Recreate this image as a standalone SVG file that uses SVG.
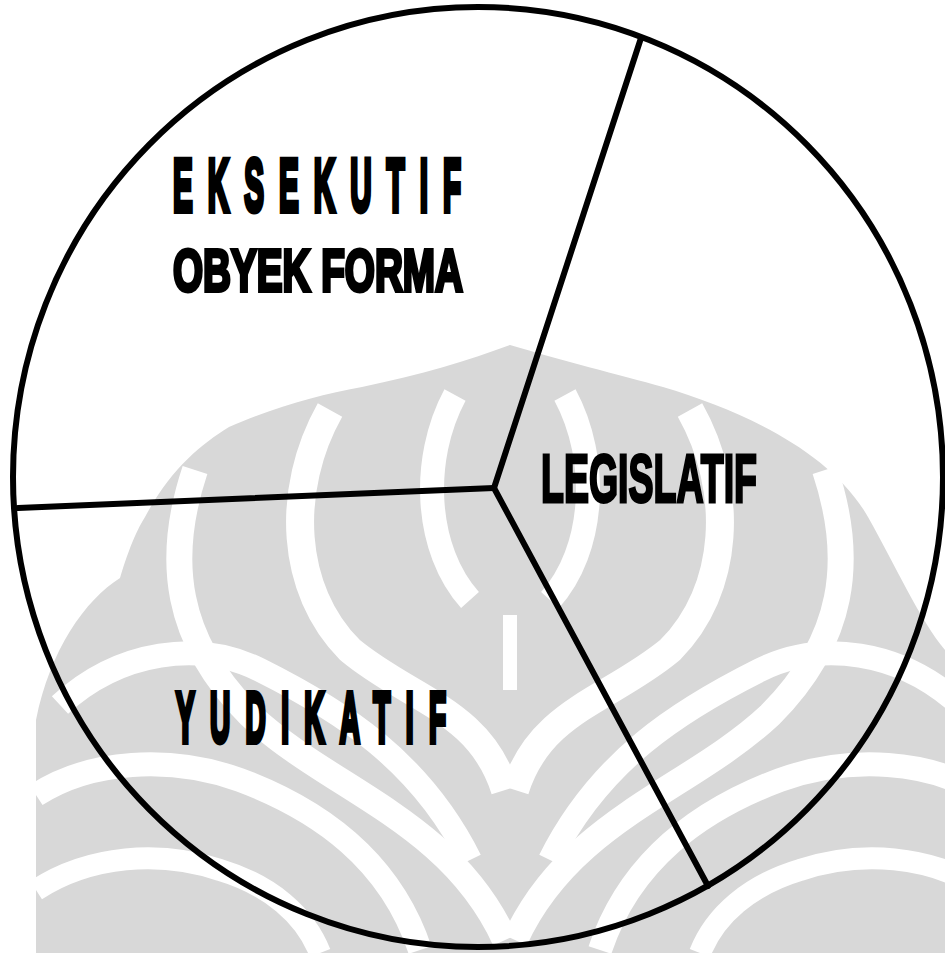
<svg xmlns="http://www.w3.org/2000/svg" width="945" height="953" viewBox="0 0 945 953">
<style>
.wm{fill:#d8d8d8}
.wb{fill:none;stroke:#ffffff;stroke-linecap:butt}
.lbl{font-family:"Liberation Sans",Arial,sans-serif;font-weight:bold;fill:#000;stroke:#000}
.edge{stroke:#000;stroke-width:6;fill:none;stroke-linecap:round}
</style>
<rect width="945" height="953" fill="#ffffff"/>
<g id="watermark">
<path class="wm" d="M510,345 C560,360 620,375 663,387 C740,410 830,450 868,517 C895,565 920,620 945,650 L945,953 L36,953 L36,720 C50,650 85,600 120,578 C130,545 138,528 145,517 C170,470 200,445 229,427 C280,405 320,395 362,387 C420,375 470,360 510,345 Z"/>
<path class="wb" stroke-width="26" d="M195,470 C165,560 175,640 250,715 C330,790 450,820 505,940"/>
<path class="wb" stroke-width="26" d="M825,470 C855,560 845,640 770,715 C690,790 570,820 515,940"/>
<path class="wb" stroke-width="28" d="M330,410 C285,490 290,590 350,650 C410,700 480,710 505,790"/>
<path class="wb" stroke-width="28" d="M690,410 C735,490 730,590 670,650 C610,700 540,710 515,790"/>
<path class="wb" stroke-width="24" d="M455,395 C420,460 425,550 470,600"/>
<path class="wb" stroke-width="24" d="M565,395 C600,460 595,550 550,600"/>
<path class="wb" stroke-width="14" d="M510,615 L510,690"/>
<path class="wb" stroke-width="24" d="M60,705 C120,650 200,640 260,670 C340,710 420,760 470,860"/>
<path class="wb" stroke-width="24" d="M960,705 C900,650 820,640 760,670 C680,710 600,760 550,860"/>
<path class="wb" stroke-width="24" d="M36,795 C90,760 170,755 240,780 C320,810 390,860 420,950"/>
<path class="wb" stroke-width="24" d="M984,795 C930,760 850,755 780,780 C700,810 630,860 600,950"/>
<path class="wb" stroke-width="22" d="M36,890 C90,855 160,850 220,870 C270,885 305,915 320,953"/>
<path class="wb" stroke-width="22" d="M984,890 C930,855 860,850 800,870 C750,885 715,915 700,953"/>
</g>
<g id="circle">
<ellipse cx="478" cy="477" rx="465" ry="470" fill="none" stroke="#000" stroke-width="6"/>
</g>
<g id="connectors">
<line class="edge" x1="494" y1="488" x2="641" y2="38"/>
<line class="edge" x1="494" y1="488" x2="18" y2="508" stroke-width="7"/>
<line class="edge" x1="494" y1="488" x2="708" y2="886"/>
</g>
<g id="eksekutif">
<text class="lbl" font-size="74" stroke-width="6" transform="translate(173,211) scale(0.4,1)" textLength="720" lengthAdjust="spacing">EKSEKUTIF</text>
</g>
<g id="obyek-forma">
<text class="lbl" x="173" y="291" font-size="60" stroke-width="4" textLength="290" lengthAdjust="spacingAndGlyphs">OBYEK FORMA</text>
</g>
<g id="legislatif">
<text class="lbl" x="541" y="502" font-size="68" stroke-width="3" textLength="216" lengthAdjust="spacingAndGlyphs">LEGISLATIF</text>
</g>
<g id="yudikatif">
<text class="lbl" font-size="70" stroke-width="6" transform="translate(176,742) scale(0.4,1)" textLength="675" lengthAdjust="spacing">YUDIKATIF</text>
</g>
</svg>
